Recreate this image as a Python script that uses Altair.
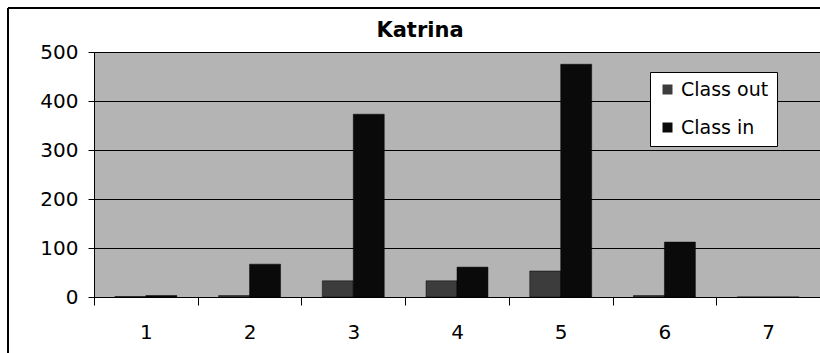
import altair as alt
import pandas as pd

categories = ["1", "2", "3", "4", "5", "6", "7"]
series_names = ["Class out", "Class in"]
class_out = [1, 3, 33, 33, 53, 3, 0]
class_in = [3, 67, 373, 61, 475, 112, 0]

rows = []
for i, c in enumerate(categories):
    rows.append({"cat": c, "series": series_names[0], "value": class_out[i]})
    rows.append({"cat": c, "series": series_names[1], "value": class_in[i]})
df = pd.DataFrame(rows)

FONT = "DejaVu Sans"

bars = alt.Chart(df).mark_bar(stroke="#000000", strokeWidth=0.5).encode(
    x=alt.X("cat:N", sort=categories, title=None,
            scale=alt.Scale(paddingInner=0, paddingOuter=0),
            axis=alt.Axis(labelAngle=0, tickBand="extent", tickSize=8, tickColor="#000",
                          domainColor="#000", labelFontSize=20, labelFont=FONT,
                          labelColor="#000", labelPadding=17, grid=False)),
    xOffset=alt.XOffset("series:N", sort=series_names,
                        scale=alt.Scale(paddingInner=0, paddingOuter=0.675)),
    y=alt.Y("value:Q", title=None,
            scale=alt.Scale(domain=[0, 500], nice=False),
            axis=alt.Axis(values=[0, 100, 200, 300, 400, 500], tickSize=6, tickColor="#000",
                          domainColor="#000", labelFontSize=20, labelFont=FONT,
                          labelColor="#000", labelPadding=10, gridColor="#000",
                          gridOpacity=1, gridWidth=1)),
    color=alt.Color("series:N", sort=series_names,
                    scale=alt.Scale(domain=series_names, range=["#3c3c3c", "#0a0a0a"]),
                    legend=alt.Legend(title=None, orient="none", legendX=556, legendY=20,
                                      fillColor="#ffffff", strokeColor="#000000",
                                      padding=8, labelFontSize=19, labelFont=FONT,
                                      labelColor="#000", symbolType="square",
                                      symbolSize=100, rowPadding=18, labelOffset=4,
                                      symbolStrokeWidth=0)),
)

frame_top = alt.Chart(df).mark_rule(color="#000", strokeWidth=1.5).encode(
    x=alt.value(-86), x2=alt.value(726), y=alt.value(-44))
frame_left = alt.Chart(df).mark_rule(color="#000", strokeWidth=1.5).encode(
    x=alt.value(-86), y=alt.value(-44), y2=alt.value(301))

chart = alt.layer(bars, frame_top, frame_left).properties(
    width=726, height=245,
    background="#ffffff",
    title=alt.TitleParams("Katrina", font=FONT, fontSize=21, fontWeight="bold",
                          color="#000", anchor="middle", dx=-37, offset=-34),
    padding={"left": 94, "top": 52, "right": 0, "bottom": 56},
    autosize=alt.AutoSizeParams(type="none"),
).configure_view(fill="#b4b4b4", stroke="#000", strokeWidth=1)

chart.save("out.html", embed_options={"renderer": "svg", "actions": False})
